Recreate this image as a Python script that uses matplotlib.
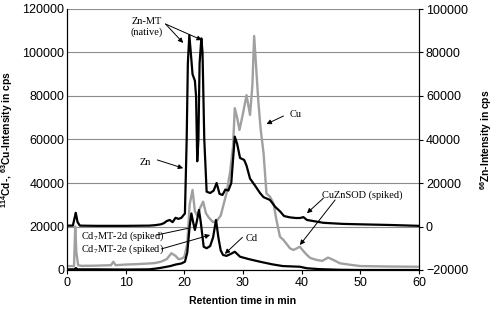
import matplotlib
matplotlib.use("Agg")
import matplotlib.pyplot as plt

plt.rcParams['font.family'] = ['Liberation Sans', 'DejaVu Sans']
plt.rcParams['mathtext.fontset'] = 'custom'
plt.rcParams['mathtext.rm'] = 'Liberation Sans'
plt.rcParams['mathtext.bf'] = 'Liberation Sans:bold'

# ---- data ----
cu_time = [0, 1.2, 1.4, 1.6, 1.9, 2.5, 5, 7.5, 7.9, 8.3, 10, 12, 14, 15, 16, 17,
           17.8, 18.5, 19, 19.5, 20, 20.5, 20.9, 21.4, 21.8, 22.2, 22.6, 23.2, 23.7,
           24.2, 24.9, 25.5, 26.2, 27.2, 27.8, 28.3, 28.6, 29.0, 29.4, 30.0, 30.6,
           31.2, 31.6, 31.9, 32.2, 32.6, 33.0, 33.5, 34.0, 34.6, 35.2, 35.7, 36.3,
           36.9, 38.0, 38.6, 39.7, 40.2, 40.9, 41.5, 42.6, 43.5, 44.5, 45.5, 46.5,
           48, 50, 55, 60]
cu_values = [1800, 1800, 20000, 8000, 2200, 1900, 2000, 2200, 3800, 2200, 2500,
             2700, 3000, 3200, 3800, 5000, 7700, 6500, 5000, 5200, 6000, 12000,
             30000, 36800, 27000, 25000, 28000, 31400, 26000, 24000, 22000, 22500,
             25000, 35400, 45000, 56700, 74400, 70000, 64400, 72000, 80400, 71300,
             85000, 107600, 95000, 78000, 65000, 53800, 35200, 33700, 30600, 23000,
             15300, 13800, 10000, 9200, 10700, 9000, 6900, 5500, 4600, 4200, 5700,
             4500, 3100, 2500, 1800, 1600, 1500]

cd_time = [0, 1.3, 1.5, 1.8, 5, 10, 14, 15, 16, 17, 17.6, 18.5, 19.5, 20.1, 20.5,
           20.9, 21.2, 21.5, 21.8, 22.1, 22.5, 22.8, 23.3, 23.8, 24.4, 24.9, 25.4,
           25.8, 26.2, 26.6, 27.2, 28.0, 28.6, 29.5, 31, 32.9, 35, 36.8, 39.7, 40.9,
           43, 46.5, 50, 60]
cd_values = [300, 300, 900, 300, 300, 200, 300, 600, 1000, 1500, 1800, 2500, 3000,
             3800, 8000, 20000, 26000, 22000, 18400, 22000, 27600, 22000, 10700,
             10000, 11000, 15000, 23000, 15000, 9000, 6900, 6500, 7500, 8400, 6100,
             5000, 3800, 2600, 1800, 1500, 800, 400, 100, 0, 0]

# 66Zn on the right axis
zn_time = [0, 1.0, 1.3, 1.5, 1.8, 2.2, 5, 10, 14, 15, 16, 16.5, 17, 17.5, 18, 18.5,
           19, 19.5, 19.8, 20.1, 20.4, 20.6, 20.85, 21.1, 21.4, 21.8, 22.0, 22.2,
           22.4, 22.6, 22.9, 23.1, 23.4, 23.8, 24.4, 25.0, 25.5, 26.0, 26.5, 27.0,
           27.5, 28.0, 28.6, 29.0, 29.5, 30.2, 30.6, 31.2, 32.0, 32.9, 33.5, 34.6,
           35.5, 36.3, 37.0, 38.0, 39.0, 39.7, 40.3, 40.9, 42, 43.7, 45, 47, 50, 55, 60]
zn_values = [400, 400, 4000, 6300, 2000, 400, 300, 300, 400, 600, 1000, 1500, 2500,
             3000, 2000, 4000, 3500, 4000, 5000, 6000, 40000, 75000, 88000, 80000,
             70000, 67000, 60000, 30000, 40000, 75000, 86500, 80000, 40000, 16000,
             15400, 16500, 20000, 15000, 14500, 17000, 16500, 20000, 41300, 38000,
             31500, 30600, 28000, 22000, 19000, 15400, 13500, 12200, 9000, 7000,
             4800, 4200, 3900, 3900, 4300, 3000, 2500, 1700, 1500, 1200, 1000, 700, 300]

x_ticks = [0, 10, 20, 30, 40, 50, 60]
left_ticks = [0, 20000, 40000, 60000, 80000, 100000, 120000]
right_ticks = [-20000, 0, 20000, 40000, 60000, 80000, 100000]

# ---- figure ----
fig = plt.figure(figsize=(4.96, 3.14), dpi=100)
ax = fig.add_axes([67/496, 44/314, 352/496, 261/314])
ax2 = ax.twinx()

gray = '#a0a0a0'
ax.plot(cu_time, cu_values, color=gray, lw=1.7, zorder=3)
ax.plot(cd_time, cd_values, color='black', lw=1.6, zorder=4)
ax2.plot(zn_time, zn_values, color='black', lw=1.6, zorder=4)

ax.set_xlim(0, 60)
ax.set_ylim(0, 120000)
ax2.set_ylim(-20000, 100000)
ax.set_xticks(x_ticks)
ax.set_yticks(left_ticks)
ax2.set_yticks(right_ticks)
ax.yaxis.grid(True, color='#8c8c8c', lw=0.8)
ax.set_axisbelow(True)

for a in (ax, ax2):
    a.tick_params(labelsize=9, length=3, width=0.8, direction='out', pad=2)
    for s in a.spines.values():
        s.set_linewidth(0.8)
ax.spines['top'].set_visible(False)
ax2.spines['top'].set_visible(False)
ax.tick_params(axis='y', length=0)

ax.set_xlabel('Retention time in min', fontsize=7.6, fontweight='bold', labelpad=5)
ax.set_ylabel(r'$\mathbf{^{114}}$Cd-, $\mathbf{^{63}}$Cu-Intensity in cps',
              fontsize=7.4, fontweight='bold', labelpad=5)
ax2.set_ylabel(r'$\mathbf{^{66}}$Zn-Intensity in cps', fontsize=7.4,
               fontweight='bold', labelpad=7)

# ---- annotations (left-axis data coordinates) ----
tfont = dict(family=['Liberation Serif', 'DejaVu Serif'], fontsize=7.5)
aprops = dict(arrowstyle='-|>', color='black', lw=0.7, mutation_scale=7,
              shrinkA=0, shrinkB=0)
lprops = dict(arrowstyle='-', color='black', lw=0.7, shrinkA=0, shrinkB=0)

ax.text(13.6, 111700, 'Zn-MT\n(native)', ha='center', va='center',
        linespacing=1.1, zorder=6, **tfont)
ax.annotate('', xy=(19.8, 104400), xytext=(16.8, 113100), arrowprops=aprops, zorder=6)
ax.annotate('', xy=(23.0, 105700), xytext=(16.8, 113100), arrowprops=aprops, zorder=6)

ax.text(13.3, 49500, 'Zn', ha='center', va='center', zorder=6, **tfont)
ax.annotate('', xy=(19.8, 46800), xytext=(15.4, 50600), arrowprops=aprops, zorder=6)

ax.text(39.0, 71700, 'Cu', ha='center', va='center', zorder=6, **tfont)
ax.annotate('', xy=(34.0, 67100), xytext=(36.9, 70800), arrowprops=aprops, zorder=6)

ax.text(31.4, 14700, 'Cd', ha='center', va='center', zorder=6, **tfont)
ax.annotate('', xy=(26.9, 7400), xytext=(29.9, 15000), arrowprops=aprops, zorder=6)

ax.text(50.3, 34500, 'CuZnSOD (spiked)', ha='center', va='center', zorder=6, **tfont)
ax.annotate('', xy=(40.9, 26100), xytext=(43.7, 33000), arrowprops=aprops, zorder=6)
ax.annotate('', xy=(39.7, 11500), xytext=(45.7, 32200), arrowprops=aprops, zorder=6)

plt.rcParams['mathtext.rm'] = 'Liberation Serif'
ax.text(2.4, 15300, r'Cd$_\mathregular{7}$MT-2d (spiked)', ha='left', va='center',
        zorder=6, **tfont)
ax.text(2.4, 9700, r'Cd$_\mathregular{7}$MT-2e (spiked)', ha='left', va='center',
        zorder=6, **tfont)
ax.annotate('', xy=(20.7, 19200), xytext=(15.3, 16100), arrowprops=lprops, zorder=6)
ax.annotate('', xy=(24.4, 16100), xytext=(16.1, 9700), arrowprops=aprops, zorder=6)

fig.savefig('out.png', dpi=100)
